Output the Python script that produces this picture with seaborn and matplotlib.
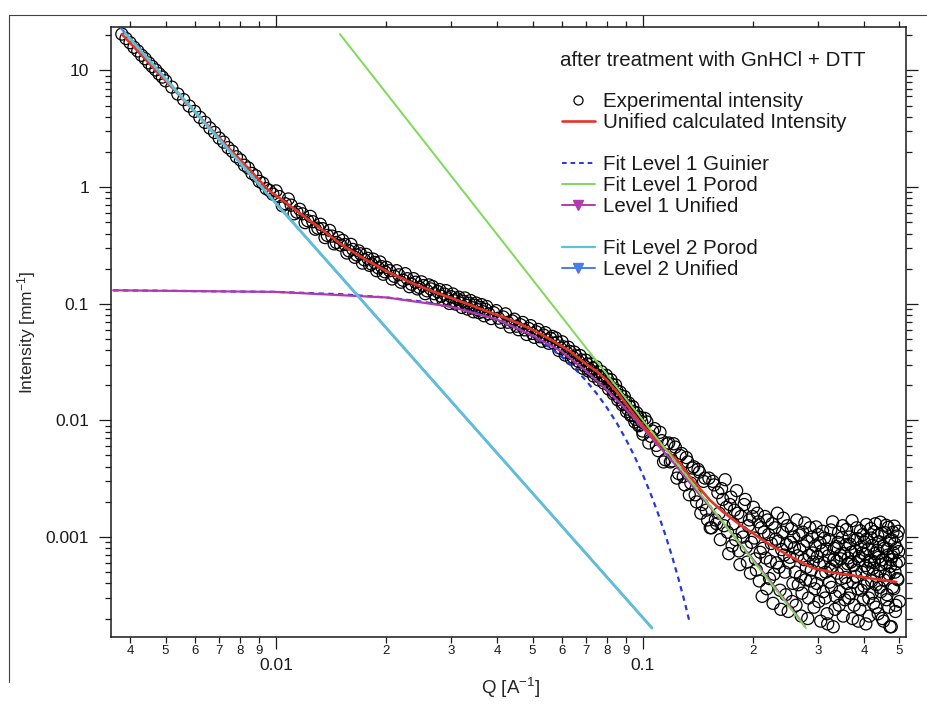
"""SAXS unified fit (Beaucage) after GnHCl + DTT treatment, log-log plot."""

import matplotlib

matplotlib.use("Agg")
import matplotlib.pyplot as plt
import numpy as np
import pandas as pd
import seaborn as sns
from matplotlib.lines import Line2D
from matplotlib.ticker import FuncFormatter, LogLocator, NullFormatter

# ---------------------------------------------------------------------------
# Data
# ---------------------------------------------------------------------------
# experimental intensity, smooth part (Q in 1/A, I in 1/mm)
q_exp = [
    0.0038, 0.0039, 0.0040, 0.0041, 0.0042, 0.0043, 0.0044, 0.0045, 0.0046, 0.0047, 0.0048, 0.0049, 0.0050,
    0.0052, 0.0054, 0.0056, 0.0058, 0.0060, 0.0062, 0.0064, 0.0066, 0.0068, 0.0070, 0.0072, 0.0074,
    0.0076, 0.0078, 0.0080, 0.0082, 0.0084, 0.0086, 0.0088, 0.0090, 0.0092, 0.0094, 0.0096,
    0.0098, 0.0102, 0.0106, 0.0110, 0.0114,
    0.0118, 0.0122, 0.0126, 0.0130, 0.0134, 0.0138, 0.0142, 0.0146,
    0.0150, 0.0154, 0.0158, 0.0162, 0.0166, 0.0170, 0.0174, 0.0178, 0.0182, 0.0186, 0.0190, 0.0194, 0.0198,
    0.0204, 0.0210, 0.0216, 0.0222, 0.0228, 0.0234, 0.0240, 0.0246, 0.0252, 0.0258,
    0.0264, 0.0270, 0.0276, 0.0282, 0.0288, 0.0294, 0.0300, 0.0306, 0.0312, 0.0318,
    0.0324, 0.0330, 0.0336, 0.0342, 0.0348, 0.0354, 0.0360, 0.0366, 0.0372,
    0.0380, 0.0392, 0.0404, 0.0416, 0.0428, 0.0440, 0.0452, 0.0464, 0.0476, 0.0488,
    0.0500, 0.0512, 0.0524, 0.0536, 0.0548, 0.0560,
    0.0572, 0.0584, 0.0596, 0.0608, 0.0620, 0.0632, 0.0644, 0.0656, 0.0668, 0.0680,
    0.0692, 0.0704, 0.0716, 0.0728, 0.0740, 0.0752, 0.0764, 0.0776, 0.0788,
    0.0800, 0.0812, 0.0824, 0.0836, 0.0848, 0.0860, 0.0872, 0.0884, 0.0896, 0.0908,
    0.0920, 0.0932, 0.0944, 0.0956, 0.0968, 0.0980, 0.0992,
    # second, interleaved set of points in the mid range
    0.0100, 0.0104, 0.0108, 0.0112, 0.0116,
    0.0120, 0.0124, 0.0128, 0.0132, 0.0136, 0.0140, 0.0144, 0.0148,
    0.0152, 0.0156, 0.0160, 0.0164, 0.0168, 0.0172, 0.0176, 0.0180, 0.0184, 0.0188, 0.0192, 0.0196, 0.0200,
    0.0207, 0.0213, 0.0219, 0.0225, 0.0231, 0.0237, 0.0243, 0.0249, 0.0255, 0.0261,
    0.0267, 0.0273, 0.0279, 0.0285, 0.0291, 0.0297, 0.0303, 0.0309, 0.0315, 0.0321,
    0.0327, 0.0333, 0.0339, 0.0345, 0.0351, 0.0357, 0.0363, 0.0369, 0.0375,
    0.0386, 0.0398, 0.0410, 0.0422, 0.0434, 0.0446, 0.0458, 0.0470, 0.0482, 0.0494,
    0.0506, 0.0518, 0.0530, 0.0542, 0.0554, 0.0566,
    0.0578, 0.0590, 0.0602, 0.0614, 0.0626, 0.0638, 0.0650, 0.0662, 0.0674, 0.0686,
    0.0698, 0.0710, 0.0722, 0.0734, 0.0746, 0.0758, 0.0770, 0.0782, 0.0794,
    0.0806, 0.0818, 0.0830, 0.0842, 0.0854, 0.0866, 0.0878, 0.0890, 0.0902, 0.0914,
    0.0926, 0.0938, 0.0950, 0.0962, 0.0974, 0.0986, 0.0998,
]
i_exp = [
    20.5, 18.8, 17.3, 15.8, 14.7, 13.5, 12.6, 11.6, 10.8, 10.1, 9.35, 8.78, 8.15,
    7.2, 6.28, 5.62, 4.95, 4.46, 3.96, 3.59, 3.21, 2.94, 2.63, 2.43, 2.18,
    2.03, 1.82, 1.71, 1.54, 1.46, 1.31, 1.25, 1.12, 1.08, 0.97, 0.935,
    0.87, 0.83, 0.72, 0.70, 0.61,
    0.59, 0.515, 0.505, 0.445, 0.44, 0.385, 0.38, 0.335,
    0.318, 0.322, 0.284, 0.292, 0.262, 0.268, 0.238, 0.245, 0.219, 0.226, 0.203, 0.208, 0.188,
    0.192, 0.172, 0.177, 0.159, 0.164, 0.147, 0.153, 0.138, 0.143, 0.129,
    0.134, 0.122, 0.127, 0.116, 0.121, 0.110, 0.115, 0.106, 0.110, 0.101,
    0.105, 0.097, 0.101, 0.0925, 0.097, 0.089, 0.093, 0.0855, 0.0895,
    0.0820, 0.0838, 0.0752, 0.0770, 0.0694, 0.0712, 0.0642, 0.0660, 0.0597, 0.0614,
    0.0556, 0.0574, 0.0521, 0.0539, 0.0489, 0.0506,
    0.0458, 0.0468, 0.0416, 0.0427, 0.0381, 0.0390, 0.0349, 0.0358, 0.0320, 0.0329,
    0.0294, 0.0304, 0.0272, 0.0281, 0.0252, 0.0261, 0.0234, 0.0242, 0.0217,
    0.0226, 0.0197, 0.0203, 0.0174, 0.0181, 0.0157, 0.0163, 0.0140, 0.0146, 0.0125,
    0.0131, 0.0112, 0.0118, 0.0102, 0.0107, 0.0092, 0.0097,
    # second set
    0.928, 0.693, 0.791, 0.590, 0.646,
    0.496, 0.561, 0.435, 0.480, 0.369, 0.425, 0.326, 0.369,
    0.349, 0.272, 0.323, 0.250, 0.284, 0.223, 0.265, 0.213, 0.241, 0.192, 0.228, 0.179, 0.205,
    0.163, 0.192, 0.153, 0.181, 0.140, 0.164, 0.134, 0.154, 0.122, 0.145,
    0.1405, 0.1121, 0.1323, 0.1077, 0.1295, 0.1005, 0.1213, 0.0992, 0.1138, 0.0929,
    0.1121, 0.0899, 0.1065, 0.0853, 0.1014, 0.0839, 0.0983, 0.0789, 0.0947,
    0.0746, 0.0873, 0.0693, 0.0819, 0.0632, 0.0737, 0.0599, 0.0691, 0.0545, 0.0649,
    0.0515, 0.0602, 0.0477, 0.0565, 0.0458, 0.0525,
    0.0509, 0.0397, 0.0472, 0.0363, 0.0424, 0.0336, 0.0385, 0.0304, 0.0360, 0.0280,
    0.0329, 0.0265, 0.0305, 0.0240, 0.0288, 0.0222, 0.0262, 0.0209, 0.0244,
    0.0186, 0.0223, 0.0169, 0.0201, 0.0150, 0.0175, 0.0136, 0.0160, 0.0119, 0.0141,
    0.0110, 0.0131, 0.0097, 0.0116, 0.0090, 0.0106, 0.0081,
]

# experimental intensity, noisy high-Q tail (I in units of 1e-4 1/mm)
q_tail = [
    0.1000, 0.1025, 0.1050, 0.1075, 0.1100, 0.1125, 0.1150, 0.1175, 0.1200, 0.1225,
    0.1250, 0.1275, 0.1300, 0.1325, 0.1350, 0.1375, 0.1400, 0.1425, 0.1450, 0.1475,
    0.1500, 0.1525, 0.1550, 0.1575, 0.1600, 0.1625, 0.1650, 0.1675, 0.1700, 0.1725,
    0.1750, 0.1775, 0.1800, 0.1825, 0.1850, 0.1875, 0.1900, 0.1925, 0.1950, 0.1975,
    0.2000, 0.2025, 0.2050, 0.2075, 0.2100, 0.2125, 0.2150, 0.2175, 0.2200, 0.2225,
    0.2250, 0.2275, 0.2300, 0.2325, 0.2350, 0.2375, 0.2400, 0.2425, 0.2450, 0.2475,
    0.2500, 0.2525, 0.2550, 0.2575, 0.2600, 0.2625, 0.2650, 0.2675, 0.2700, 0.2725,
    0.2750, 0.2775, 0.2800, 0.2825, 0.2850, 0.2875, 0.2900, 0.2925, 0.2950, 0.2975,
    0.3000, 0.3025, 0.3050, 0.3075, 0.3100, 0.3125, 0.3150, 0.3175, 0.3200, 0.3225,
    0.3250, 0.3275, 0.3300, 0.3325, 0.3350, 0.3375, 0.3400, 0.3425, 0.3450, 0.3475,
    0.3500, 0.3525, 0.3550, 0.3575, 0.3600, 0.3625, 0.3650, 0.3675, 0.3700, 0.3725,
    0.3750, 0.3775, 0.3800, 0.3825, 0.3850, 0.3875, 0.3900, 0.3925, 0.3950, 0.3975,
    0.4000, 0.4025, 0.4050, 0.4075, 0.4100, 0.4125, 0.4150, 0.4175, 0.4200, 0.4225,
    0.4250, 0.4275, 0.4300, 0.4325, 0.4350, 0.4375, 0.4400, 0.4425, 0.4450, 0.4475,
    0.4500, 0.4525, 0.4550, 0.4575, 0.4600, 0.4625, 0.4650, 0.4675, 0.4700, 0.4725,
    0.4750, 0.4775, 0.4800, 0.4825, 0.4850, 0.4875, 0.4900, 0.4925, 0.4950, 0.4975,
    0.5000,
    0.16125, 0.16375, 0.16625, 0.16875, 0.17125, 0.17375, 0.17625, 0.17875, 0.18125, 0.18375,
    0.18625, 0.18875, 0.19125, 0.19375, 0.19625, 0.19875, 0.20125, 0.20375, 0.20625, 0.20875,
    0.21125, 0.21375, 0.21625, 0.21875, 0.22125, 0.22375, 0.22625, 0.22875, 0.23125, 0.23375,
    0.23625, 0.23875, 0.24125, 0.24375, 0.24625, 0.24875, 0.25125, 0.25375, 0.25625, 0.25875,
    0.26125, 0.26375, 0.26625, 0.26875, 0.27125, 0.27375, 0.27625, 0.27875, 0.28125, 0.28375,
    0.28625, 0.28875, 0.29125, 0.29375, 0.29625, 0.29875, 0.30125, 0.30375, 0.30625, 0.30875,
    0.31125, 0.31375, 0.31625, 0.31875, 0.32125, 0.32375, 0.32625, 0.32875, 0.33125, 0.33375,
    0.33625, 0.33875, 0.34125, 0.34375, 0.34625, 0.34875, 0.35125, 0.35375, 0.35625, 0.35875,
    0.36125, 0.36375, 0.36625, 0.36875, 0.37125, 0.37375, 0.37625, 0.37875, 0.38125, 0.38375,
    0.38625, 0.38875, 0.39125, 0.39375, 0.39625, 0.39875, 0.40125, 0.40375, 0.40625, 0.40875,
    0.41125, 0.41375, 0.41625, 0.41875, 0.42125, 0.42375, 0.42625, 0.42875, 0.43125, 0.43375,
    0.43625, 0.43875, 0.44125, 0.44375, 0.44625, 0.44875, 0.45125, 0.45375, 0.45625, 0.45875,
    0.46125, 0.46375, 0.46625, 0.46875, 0.47125, 0.47375, 0.47625, 0.47875, 0.48125, 0.48375,
    0.48625, 0.48875, 0.49125, 0.49375, 0.49625, 0.49875,
    0.10125, 0.10375, 0.10625, 0.10875, 0.11125, 0.11375, 0.11625, 0.11875, 0.12125, 0.12375,
    0.12625, 0.12875, 0.13125, 0.13375, 0.13625, 0.13875, 0.14125, 0.14375, 0.14625, 0.14875,
    0.15125, 0.15375, 0.15625, 0.15875,
]
i_tail_e4 = [
    76, 97, 73, 85, 55, 67, 46, 64, 45, 59,
    35, 52, 28, 44, 29, 40, 20, 36, 19, 32,
    14, 12, 30, 14, 24, 9.5, 21, 31, 11, 19,
    8.4, 17, 25, 7.6, 15, 10, 21, 6.1, 14, 9,
    18, 6.5, 16, 4.2, 12, 8.0, 15, 3.6, 10.5, 6.2,
    13, 4.8, 9.6, 16, 5.5, 2.4, 11, 7, 3.2, 12.5,
    6.0, 9, 2.8, 10, 5.0, 14, 3.9, 7.8, 2.1, 11,
    6.4, 4.3, 9.2, 3.0, 12, 5.2, 7.3, 2.5, 8.4, 4.0,
    10.5, 5.8, 1.9, 7.6, 3.4, 9.8, 5.0, 2.2, 6.9, 4.1,
    11.5, 5.6, 1.7, 8.0, 3.1, 6.2, 9.0, 2.6, 7.0, 4.4,
    12.5, 5.3, 2.9, 8.6, 4.0, 6.6, 10, 3.3, 7.4, 2.0,
    5.7, 9.4, 4.6, 12, 3.6, 6.8, 2.4, 8.2, 5.0, 10.5,
    3.8, 7.1, 1.8, 9.6, 5.4, 3.0, 6.3, 11.8, 4.2, 8.5,
    2.7, 6.0, 13, 3.9, 7.7, 2.2, 9.1, 5.1, 3.4, 10.8,
    6.4, 1.9, 8.0, 4.7, 12.6, 3.2, 7.0, 2.5, 9.3, 5.6,
    1.7, 6.8, 11, 3.6, 8.8, 2.3, 5.9, 10.2, 4.3, 7.5,
    2.8,
    16, 26, 12.5, 18, 7.2, 22, 13, 9.5, 16, 5.8,
    11, 19, 8.2, 12.5, 4.9, 15, 9.8, 5.2, 13.5, 7.4,
    3.1, 11, 6.6, 14, 4.4, 8.8, 2.7, 12, 6.0, 9.2,
    3.5, 7.8, 14.5, 5.0, 8.6, 2.3, 6.7, 11.8, 4.0, 8.1,
    2.6, 6.9, 10.4, 4.6, 3.3, 8.4, 13.2, 5.5, 2.0, 7.0,
    4.2, 10, 6.1, 3.6, 12.2, 6.8, 2.8, 8.9, 4.8, 11.2,
    6.0, 3.0, 7.9, 1.8, 9.5, 5.3, 3.7, 13.5, 6.4, 2.4,
    8.3, 4.9, 11, 3.4, 6.5, 9.9, 2.1, 7.2, 4.5, 11.6,
    5.9, 3.0, 8.7, 6.1, 13.8, 4.1, 2.6, 7.6, 5.2, 9.7,
    1.9, 6.3, 11.3, 3.5, 7.3, 2.9, 9.0, 5.7, 12.8, 4.0,
    7.9, 2.1, 6.1, 9.8, 3.3, 5.4, 11.1, 7.2, 2.5, 4.6,
    10.3, 6.7, 3.7, 13.4, 5.8, 2.0, 8.3, 4.3, 10.9, 6.0,
    2.9, 7.9, 12.1, 4.8, 1.7, 6.4, 9.5, 3.7, 7.3, 12.4,
    5.0, 2.6, 8.0, 4.4, 11.2, 6.2,
    104, 64, 81, 61, 79, 44, 63, 44, 63, 32,
    50, 33, 48, 23, 39, 23, 38, 16, 30, 17,
    32, 12, 28, 13,
]

# unified calculated intensity (total fit)
q_unified = [0.0038, 0.0045, 0.0055, 0.0065, 0.0075, 0.0085, 0.0095, 0.0105, 0.0115, 0.013,
             0.015, 0.0173, 0.020, 0.0235, 0.0263, 0.030, 0.034, 0.0376, 0.042, 0.0462,
             0.051, 0.0569, 0.063, 0.0704, 0.075, 0.0798, 0.085, 0.0904, 0.095, 0.100,
             0.1045, 0.11, 0.12, 0.126, 0.135, 0.152, 0.165, 0.184, 0.2, 0.218,
             0.25, 0.29, 0.33, 0.366, 0.42, 0.49]
i_unified = [20.5, 11.6, 5.95, 3.40, 2.10, 1.40, 0.95, 0.76, 0.61, 0.46,
             0.325, 0.245, 0.19, 0.150, 0.130, 0.112, 0.097, 0.086, 0.076, 0.067,
             0.058, 0.048, 0.0395, 0.0300, 0.0262, 0.022, 0.0175, 0.0135, 0.0110, 0.0090,
             0.0078, 0.0065, 0.0050, 0.0043, 0.0032, 0.00208, 0.00165, 0.00127, 0.00107, 0.00089,
             0.00069, 0.000543, 0.000495, 0.000473, 0.00044, 0.000412]

# level 1 Guinier fit
q_guinier = [0.0036, 0.01, 0.015, 0.02, 0.025, 0.03, 0.035, 0.04, 0.045, 0.05,
             0.055, 0.06, 0.065, 0.07, 0.075, 0.08, 0.085, 0.09, 0.095, 0.1,
             0.105, 0.11, 0.115, 0.12, 0.125, 0.13, 0.1343]
i_guinier = [0.1304, 0.1263, 0.1207, 0.1132, 0.1043, 0.0943, 0.0838, 0.0731, 0.0626, 0.0526,
             0.0434, 0.0352, 0.0280, 0.0219, 0.0168, 0.01267, 0.00938, 0.00681, 0.00486, 0.00340,
             0.00234, 0.00158, 0.00105, 0.000684, 0.000437, 0.000275, 0.000181]

# level 1 Porod fit (straight line on log-log)
q_porod1 = [0.01493, 0.278]
i_porod1 = [20.5, 1.66e-4]

# level 1 unified
q_lvl1 = [0.0036, 0.01, 0.02, 0.03, 0.04, 0.05, 0.06, 0.07, 0.08, 0.09,
          0.1, 0.11, 0.12, 0.14, 0.16, 0.2, 0.25, 0.276]
i_lvl1 = [0.1304, 0.1263, 0.1132, 0.0943, 0.0734, 0.0534, 0.039, 0.0265, 0.0180, 0.0124,
          0.0086, 0.0061, 0.0045, 0.00248, 0.0015, 0.000637, 0.000261, 0.000172]

# level 2 Porod fit and level 2 unified
q_porod2 = [0.00388, 0.1058]
i_porod2 = [20.9, 1.66e-4]
q_lvl2 = [0.0037, 0.1058]
i_lvl2 = [24.8, 1.66e-4]

# ---------------------------------------------------------------------------
# Style
# ---------------------------------------------------------------------------
RED = "#e53529"
GUINIER = "#2438db"
GREEN = "#7ed957"
MAGENTA = "#b23aae"
CYAN = "#5fbfd8"
LVL2 = "#4b7be8"
INK = "#1a1a1a"

sns.set_theme(style="ticks")
plt.rcParams["font.family"] = ["Liberation Sans", "DejaVu Sans"]
plt.rcParams["mathtext.fontset"] = "custom"
plt.rcParams["mathtext.rm"] = "Liberation Sans"
plt.rcParams["mathtext.it"] = "Liberation Sans:italic"
plt.rcParams["mathtext.bf"] = "Liberation Sans:bold"
plt.rcParams["text.color"] = INK

fig = plt.figure(figsize=(9.28, 7.04), dpi=100)
ax = fig.add_axes([0.1196, 0.0952, 0.8567, 0.8665])
ax.set_xscale("log")
ax.set_yscale("log")

exp_df = pd.DataFrame({
    "q": q_exp + q_tail,
    "i": i_exp + [v * 1e-4 for v in i_tail_e4],
})
sns.scatterplot(data=exp_df, x="q", y="i", ax=ax, marker="o", s=75,
                facecolor="none", edgecolor="black", linewidth=0.9,
                zorder=2, legend=False)


def curve(q, i, color, lw, z, **kw):
    sns.lineplot(x=q, y=i, ax=ax, color=color, lw=lw, estimator=None,
                 sort=False, zorder=z, legend=False, **kw)


curve(q_lvl2, i_lvl2, LVL2, 1.6, 2.5)
curve(q_guinier, i_guinier, GUINIER, 1.6, 3, linestyle=(0, (2.4, 2.0)))
curve(q_lvl1, i_lvl1, MAGENTA, 1.6, 3.5)
curve(q_unified, i_unified, RED, 1.9, 4)
curve(q_porod1, i_porod1, GREEN, 1.4, 4.5)
curve(q_porod2, i_porod2, CYAN, 2.0, 5)

ax.set_xlim(0.00355, 0.521)
ax.set_ylim(1.39e-4, 23.6)

# ---------------------------------------------------------------------------
# Axes, ticks
# ---------------------------------------------------------------------------
def minor_digit(v, pos):
    return f"{int(round(v / 10 ** np.floor(np.log10(v))))}"


ax.xaxis.set_major_locator(LogLocator(base=10, numticks=20))
ax.xaxis.set_minor_locator(LogLocator(base=10, subs=(2, 3, 4, 5, 6, 7, 8, 9), numticks=100))
ax.xaxis.set_major_formatter(FuncFormatter(lambda v, p: f"{v:g}"))
ax.xaxis.set_minor_formatter(FuncFormatter(minor_digit))
ax.yaxis.set_major_locator(LogLocator(base=10, numticks=20))
ax.yaxis.set_minor_locator(LogLocator(base=10, subs=(2, 3, 4, 5, 6, 7, 8, 9), numticks=100))
ax.yaxis.set_major_formatter(FuncFormatter(lambda v, p: f"{v:g}"))
ax.yaxis.set_minor_formatter(NullFormatter())

ax.tick_params(which="both", direction="out", top=True, right=True, width=0.9, color=INK, labelcolor=INK)
ax.tick_params(which="major", length=8.4)
ax.tick_params(which="minor", length=4.2)
ax.tick_params(axis="x", which="major", labelsize=12.5, pad=6.5)
ax.tick_params(axis="x", which="minor", labelsize=9.5, pad=1.5)
ax.tick_params(axis="y", which="major", labelsize=12.5, pad=7.5)

for sp in ax.spines.values():
    sp.set_linewidth(1.1)
    sp.set_color(INK)
    sp.set_visible(True)

ax.set_xlabel("Q [A$^{-1}$]", fontsize=13.5)
ax.xaxis.set_label_coords(0.502, -0.064)
ax.set_ylabel("Intensity [mm$^{-1}$]", fontsize=12.5)
ax.yaxis.set_label_coords(-0.092, 0.5)

# ---------------------------------------------------------------------------
# Legend block
# ---------------------------------------------------------------------------
fig.text(560 / 928, 1 - 60 / 704, "after treatment with GnHCl + DTT",
         ha="left", va="center", fontsize=14.8)

handles = [
    Line2D([], [], ls="none", marker="o", mfc="none", mec="black", ms=6.5, mew=0.9),
    Line2D([], [], color=RED, lw=1.9),
    Line2D([], [], ls="none"),
    Line2D([], [], color=GUINIER, lw=1.4, ls=(0, (2.4, 2.0))),
    Line2D([], [], color=GREEN, lw=1.4),
    Line2D([], [], color=MAGENTA, lw=1.4, marker="v", ms=7),
    Line2D([], [], ls="none"),
    Line2D([], [], color=CYAN, lw=1.6),
    Line2D([], [], color=LVL2, lw=1.4, marker="v", ms=7),
]
labels = ["Experimental intensity", "Unified calculated Intensity", " ",
          "Fit Level 1 Guinier", "Fit Level 1 Porod", "Level 1 Unified", " ",
          "Fit Level 2 Porod", "Level 2 Unified"]
fig.legend(handles, labels, loc="upper left", bbox_to_anchor=(562 / 928, 1 - 92 / 704),
           frameon=False, fontsize=14.8, handlelength=1.6, handletextpad=0.4,
           labelspacing=0.1, borderpad=0, borderaxespad=0)

# outer window frame (left and top edges visible in the screenshot)
fig.add_artist(Line2D([9 / 928, 9 / 928], [1 - 15 / 704, 1 - 682 / 704],
                      transform=fig.transFigure, color="0.25", lw=0.8))
fig.add_artist(Line2D([9 / 928, 1.0], [1 - 15 / 704, 1 - 15 / 704],
                      transform=fig.transFigure, color="0.25", lw=0.8))

fig.savefig("out.png", dpi=100)
